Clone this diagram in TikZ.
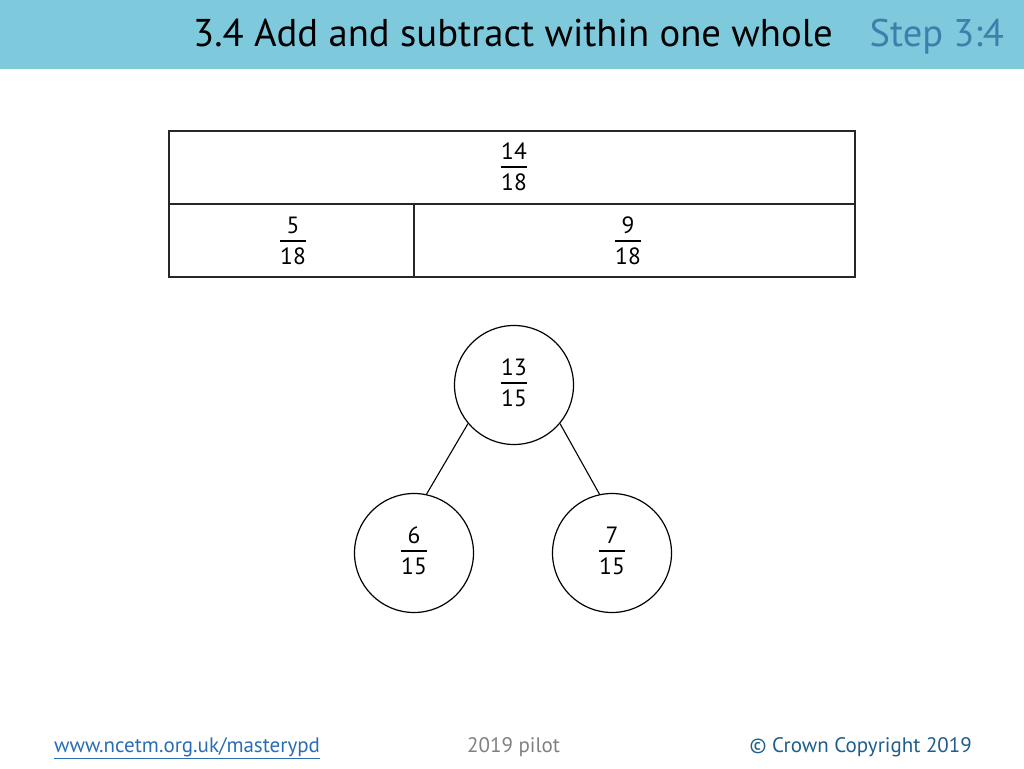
\documentclass[tikz,border=0pt]{standalone}
\usepackage{fontspec}
\setmainfont{PT Sans}
\usepackage{array}
\definecolor{hdr}{HTML}{7FC9DD}
\definecolor{stepc}{HTML}{3C7FAA}
\definecolor{linkc}{HTML}{2B6DB5}
\definecolor{copyc}{HTML}{1F5E8C}
\definecolor{pilotc}{HTML}{808080}
\newcommand\myfr[2]{{\setlength\arrayrulewidth{1.8pt}\renewcommand\arraystretch{0}\begin{tabular}{@{}c@{}}#1\\[6pt]\hline\noalign{\vskip 6pt}#2\end{tabular}}}
\begin{document}
\begin{tikzpicture}[x=1pt,y=-1pt,
  frac/.style={font=\fontsize{23.5}{27}\selectfont, inner sep=0pt, align=center},
  bar/.style={draw=black!85, line width=2.4pt},
  bubble/.style={circle, draw=black, line width=1.2pt, minimum size=119pt, inner sep=0pt},
  link/.style={draw=black, line width=1.1pt},
  foot/.style={font=\fontsize{21}{25}\selectfont, anchor=base west, inner sep=0pt}]
\useasboundingbox (0,0) rectangle (1024,768);
\fill[hdr] (0,0) rectangle (1024,69);
\node[anchor=base west, inner sep=0pt, font=\fontsize{38.7}{44}\selectfont] (title) at (193,47) {3.4 Add and subtract within one whole};
\node[anchor=base east, inner sep=0pt, font=\fontsize{38.5}{44}\selectfont, text=stepc] (step) at (1004,47) {Step 3:4};
% bar model
\draw[bar] (169,131) rectangle (855,277);
\draw[bar] (169,204) -- (855,204);
\draw[bar] (414,204) -- (414,277);
\node[frac] (whole) at (514,167) {\myfr{14}{18}};
\node[frac] (a) at (293,241) {\myfr{5}{18}};
\node[frac] (b) at (628,241) {\myfr{9}{18}};
% part-whole
\node[bubble] (top) at (514,385) {};
\node[bubble] (left) at (414,553) {};
\node[bubble] (right) at (612,553) {};
\node[frac] (topf) at (514,383) {\myfr{13}{15}};
\node[frac] (leftf) at (414,551) {\myfr{6}{15}};
\node[frac] (rightf) at (612,551) {\myfr{7}{15}};
\draw[link] (top.220) -- (left.78);
\draw[link] (top.320) -- (right.102);
% footer
\node[foot, text=linkc] (url) at (54,752) {\underline{www.ncetm.org.uk/masterypd}};
\node[foot, text=pilotc] (pilot) at (467,752) {2019 pilot};
\node[foot, text=copyc, anchor=base east] (copy) at (972,752) {© Crown Copyright 2019};
\end{tikzpicture}
\end{document}
